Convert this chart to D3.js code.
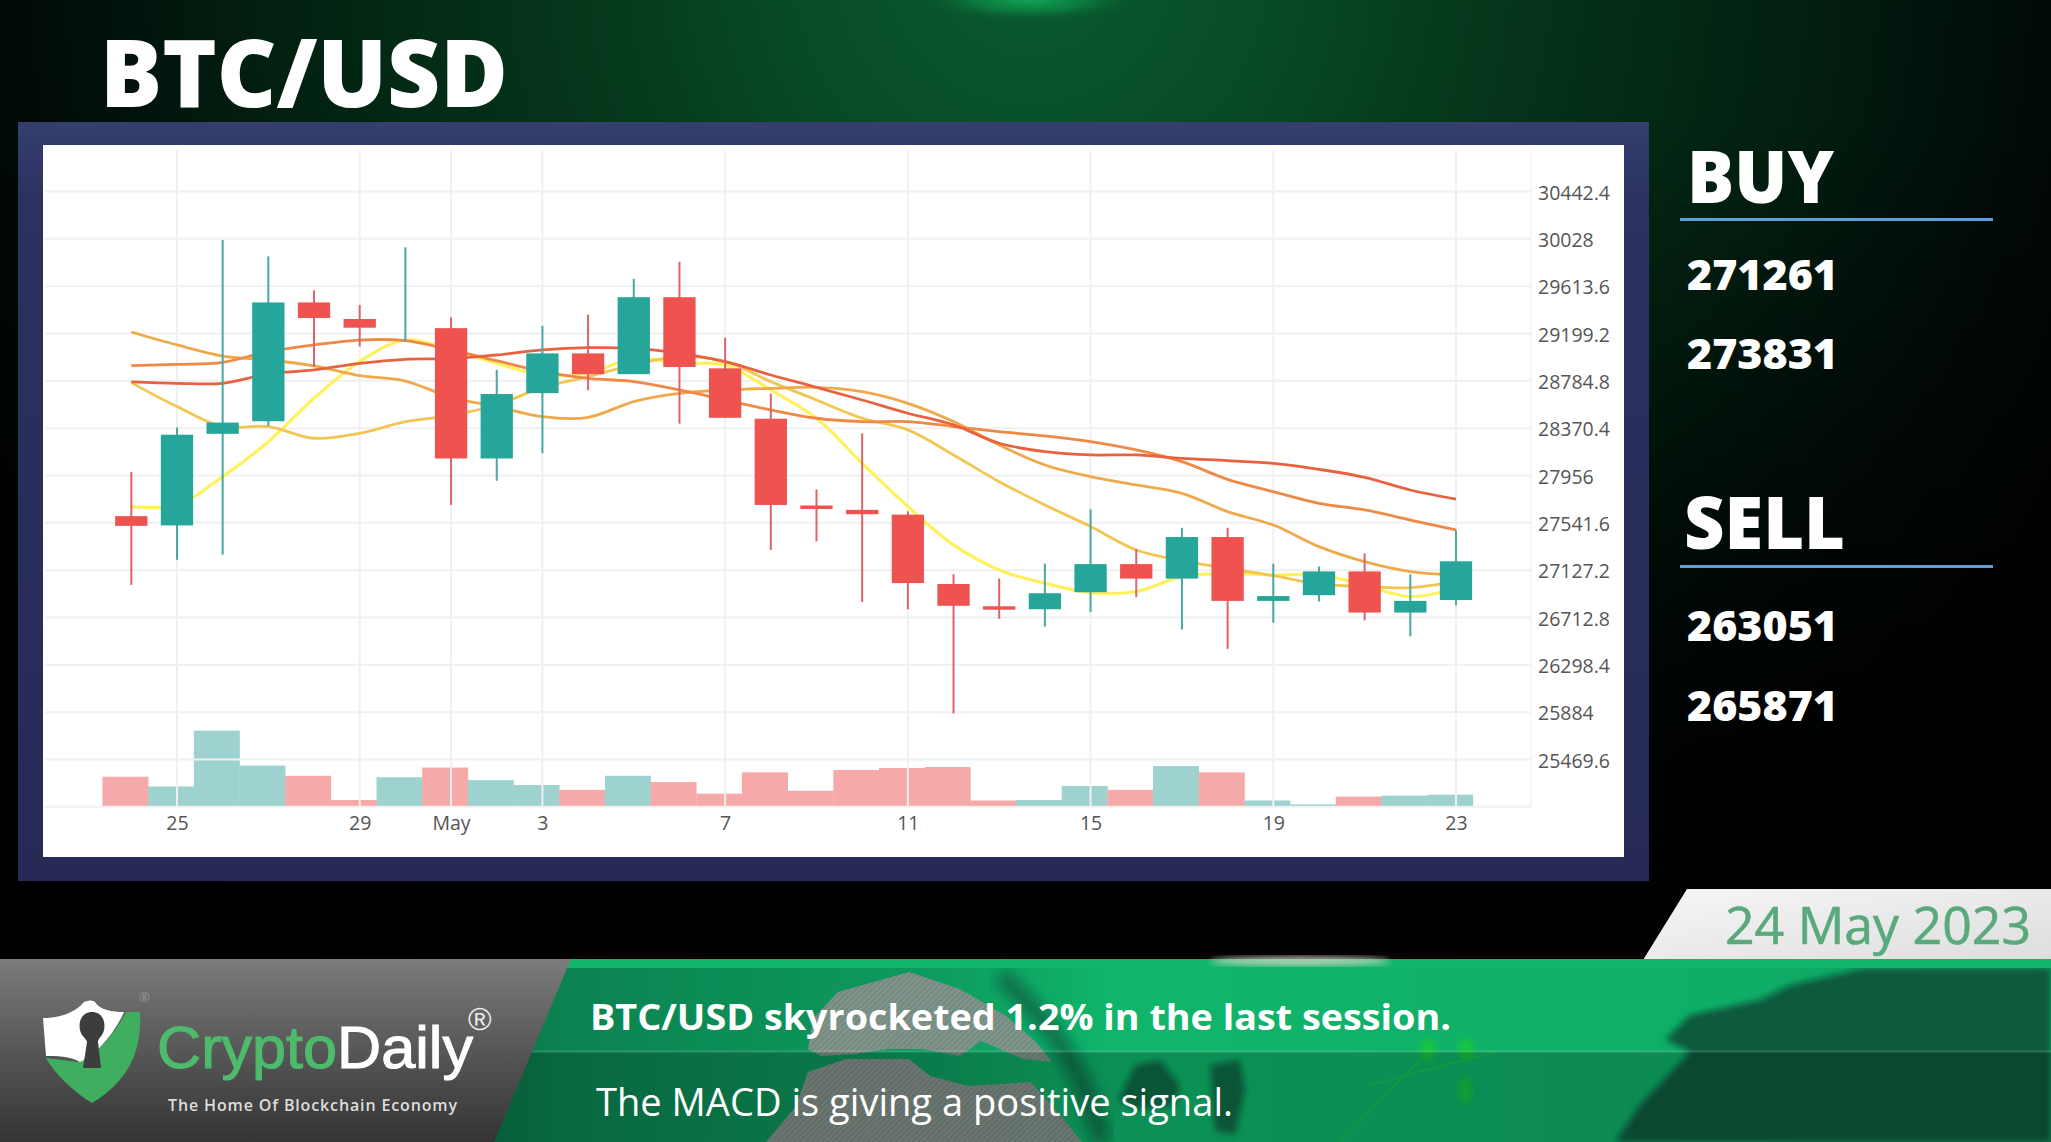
<!DOCTYPE html>
<html>
<head>
<meta charset="utf-8">
<script src="https://cdn.jsdelivr.net/npm/d3@7"></script>
<style>
html,body{margin:0;padding:0;background:#000;overflow:hidden}
svg{display:block}
text{font-family:"Open Sans",sans-serif}
</style>
</head>
<body>
<svg id="c" width="2051" height="1142" viewBox="0 0 2051 1142"></svg>
<script>
// ---- data ----
const dates = ["2023-04-24","2023-04-25","2023-04-26","2023-04-27","2023-04-28","2023-04-29","2023-04-30","2023-05-01","2023-05-02","2023-05-03","2023-05-04","2023-05-05","2023-05-06","2023-05-07","2023-05-08","2023-05-09","2023-05-10","2023-05-11","2023-05-12","2023-05-13","2023-05-14","2023-05-15","2023-05-16","2023-05-17","2023-05-18","2023-05-19","2023-05-20","2023-05-21","2023-05-22","2023-05-23"];
const opens  = [27600,27519,28321,28431,29471,29326,29127,29246,28105,28677,29025,28843,29517,28894,28453,27693,27655,27613,27006,26811,26785,26934,27180,27053,27417,26858,26908,27116,26756,26866];
const closes = [27515,28313,28419,29471,29335,29250,29127,28105,28669,29025,28843,29517,28906,28461,27698,27663,27617,27014,26815,26781,26925,27180,27053,27417,26858,26900,27116,26756,26858,27205];
const highs  = [27986,28376,30018,29874,29577,29449,29954,29339,28881,29267,29365,29678,29827,29161,28673,27833,28325,27642,27091,27053,27184,27659,27311,27498,27498,27184,27159,27273,27091,27477];
const lows   = [26998,27218,27261,28389,28906,29085,29127,27698,27910,28151,28703,28843,28410,28461,27303,27379,26849,26785,25873,26701,26633,26760,26891,26607,26438,26667,26853,26688,26548,26819];
const volumes = [62,42,157,85,64,14,61,81,55,45,35,64,51,27,71,33,76,80,82,13,14,43,35,84,71,13,5,21,23,25];
const ma5  = [27683,27698,27946,28252,28632,28953,29142,29055,28938,28836,28851,28982,28938,28924,28705,28457,28063,27684,27348,27129,27012,26931,26940,27070,27099,27085,27085,26997,26895,26968];
const ma10 = [28769,28559,28384,28384,28282,28325,28427,28483,28573,28728,28821,28924,28996,28953,28778,28617,28457,28355,28136,27902,27698,27509,27304,27210,27143,27079,27006,26983,26974,27026];
const ma15 = [29212,29099,29002,28967,28915,28830,28783,28640,28559,28471,28465,28603,28675,28705,28719,28728,28690,28588,28428,28223,28048,27946,27873,27800,27639,27522,27333,27201,27114,27085];
const ma20 = [28918,28929,28947,29040,29099,29142,29137,29055,28961,28865,28807,28778,28705,28617,28530,28457,28427,28428,28384,28340,28302,28253,28180,28077,27922,27814,27712,27654,27566,27479];
const ma30 = [28775,28763,28763,28845,28880,28938,28973,28979,29011,29055,29075,29069,29026,28953,28836,28728,28617,28501,28399,28238,28165,28136,28136,28106,28086,28062,28010,27940,27829,27750];
const priceTicks = [30442.4,30028,29613.6,29199.2,28784.8,28370.4,27956,27541.6,27127.2,26712.8,26298.4,25884,25469.6];
const dateTicks = ["2023-04-25","2023-04-29","2023-05-01","2023-05-03","2023-05-07","2023-05-11","2023-05-15","2023-05-19","2023-05-23"];
const dateLabels = ["25","29","May","3","7","11","15","19","23"];
const buyLevels = ["271261","273831"];
const sellLevels = ["263051","265871"];

// ---- scaffolding ----
const svg = d3.select("#c");
const defs = svg.append("defs");
function grad(id, kind, attrs, stops){
  const g = defs.append(kind).attr("id",id);
  Object.entries(attrs).forEach(([k,v])=>g.attr(k,v));
  stops.forEach(s=>g.append("stop").attr("offset",s[0]).attr("stop-color",s[1]).attr("stop-opacity",s[2]===undefined?1:s[2]));
}
grad("bg","radialGradient",{gradientUnits:"userSpaceOnUse",cx:1030,cy:-40,r:1250},[[0,"#0a5a30"],[.2,"#074a26"],[.38,"#05351a"],[.62,"#021f10"],[.81,"#010a08"],[1,"#000"]]);
grad("fade","linearGradient",{x1:0,y1:0,x2:0,y2:1},[[0,"#000",0],[.1,"#000",0],[.78,"#000",.9],[1,"#000",1]]);
grad("glow","radialGradient",{},[[0,"#12a555",1],[.5,"#0e8a46",.7],[1,"#0a5a30",0]]);
grad("frame","linearGradient",{x1:0,y1:0,x2:0,y2:1},[[0,"#343f6d"],[.1,"#2b3260"],[1,"#262a55"]]);
grad("grey","linearGradient",{x1:0,y1:0,x2:0,y2:1},[[0,"#7b7b7b"],[.5,"#575757"],[1,"#343434"]]);
grad("green","linearGradient",{x1:0,y1:0,x2:1,y2:0},[[0,"#0a6e45"],[.08,"#0b8350"],[.3,"#0d9a5e"],[.42,"#10b56b"],[.8,"#0fae68"],[1,"#0ea162"]]);
grad("tab","linearGradient",{x1:0,y1:0,x2:1,y2:1},[[0,"#f6f6f6"],[1,"#dcdedc"]]);
defs.append("filter").attr("id","b3").append("feGaussianBlur").attr("stdDeviation",3);
defs.append("filter").attr("id","b8").append("feGaussianBlur").attr("stdDeviation",7);
defs.append("filter").attr("id","b1").append("feGaussianBlur").attr("stdDeviation",.45);
const hatch = defs.append("pattern").attr("id","hatch").attr("width",4).attr("height",4).attr("patternUnits","userSpaceOnUse").attr("patternTransform","rotate(45)");
hatch.append("rect").attr("width",4).attr("height",4).attr("fill","#8d9490");
hatch.append("rect").attr("width",1.3).attr("height",4).attr("fill","#7a837e");

svg.append("rect").attr("width",2051).attr("height",1142).attr("fill","#000");
svg.append("rect").attr("width",2051).attr("height",1142).attr("fill","url(#bg)");
svg.append("rect").attr("width",2051).attr("height",1142).attr("fill","url(#fade)");
svg.append("ellipse").attr("cx",1030).attr("cy",0).attr("rx",110).attr("ry",22).attr("fill","url(#glow)");

// header
svg.append("text").attr("x",100).attr("y",107).attr("fill","#fff").attr("font-size",94).attr("font-weight",800).attr("textLength",408).attr("lengthAdjust","spacingAndGlyphs").text("BTC/USD");

// chart frame
svg.append("rect").attr("x",18).attr("y",122).attr("width",1631).attr("height",759).attr("fill","url(#frame)");
svg.append("rect").attr("x",43).attr("y",145).attr("width",1581).attr("height",712).attr("fill","#fff");

// ---- scales ----
const parse = d3.utcParse("%Y-%m-%d");
const dd = dates.map(parse);
const x = d3.scaleUtc().domain([dd[0],dd[dd.length-1]]).range([131.3,1456]);
const y = d3.scaleLinear().domain([25055.2,30442.4]).range([806.8,191.5]);
const v = d3.scaleLinear().domain([0,157]).range([806.8,730.7]);
const plotL = 45, plotR = 1531, plotT = 150;
const step = x(dd[1])-x(dd[0]);
const bodyW = 32.3, volShift = -6;
const UP = "#26a69a", DOWN = "#ef5350";
const isUp = i => closes[i] >= opens[i];

const chart = svg.append("g").attr("filter","url(#b1)");

// volume bars
chart.append("g").selectAll("rect").data(dates).join("rect")
  .attr("x",(d,i)=>x(dd[i])-step/2+volShift).attr("width",step+.3)
  .attr("y",(d,i)=>v(volumes[i])).attr("height",(d,i)=>v(0)-v(volumes[i]))
  .attr("fill",(d,i)=>isUp(i)?"#9dd2cf":"#f6a9a9");

// grid
const gridCol = "#f0f0f0";
chart.append("g").selectAll("line").data(priceTicks.concat([25055.2])).join("line")
  .attr("x1",plotL).attr("x2",plotR).attr("y1",d=>y(d)).attr("y2",d=>y(d))
  .attr("stroke",gridCol).attr("stroke-width",2);
chart.append("g").selectAll("line").data(dateTicks).join("line")
  .attr("x1",d=>x(parse(d))).attr("x2",d=>x(parse(d))).attr("y1",plotT).attr("y2",y(25055.2))
  .attr("stroke",gridCol).attr("stroke-width",2);
chart.append("line").attr("x1",plotR).attr("x2",plotR).attr("y1",plotT).attr("y2",y(25055.2)).attr("stroke","#f5f5f5").attr("stroke-width",1.5);

// axes
const yAxis = d3.axisRight(y).tickValues(priceTicks).tickSize(0).tickPadding(7).tickFormat(d=>String(d));
const yG = svg.append("g").attr("transform",`translate(${plotR},1.5)`).call(yAxis);
yG.select(".domain").remove();
yG.selectAll("text").attr("fill","#555").attr("font-size",19.5).attr("font-family","'Open Sans',sans-serif");
const xAxis = d3.axisBottom(x).tickValues(dateTicks.map(parse)).tickSize(0).tickPadding(8).tickFormat((d,i)=>dateLabels[i]);
const xG = svg.append("g").attr("transform",`translate(0,${y(25055.2)+1})`).call(xAxis);
xG.select(".domain").remove();
xG.selectAll("text").attr("fill","#555").attr("font-size",19.5).attr("font-family","'Open Sans',sans-serif");

// moving averages
const line = d3.line().x((d,i)=>x(dd[i])).y(d=>y(d)).curve(d3.curveCatmullRom.alpha(.5));
[[ma5,"#fff15c",3.2],[ma10,"#f3c552",2.8],[ma15,"#efa94c",2.8],[ma20,"#ee8a45",2.8],[ma30,"#e8623f",2.8]].forEach(([s,c,w])=>{
  chart.append("path").attr("d",line(s)).attr("fill","none").attr("stroke",c).attr("stroke-width",w);
});

// candles
chart.append("g").selectAll("line").data(dates).join("line")
  .attr("x1",(d,i)=>x(dd[i])).attr("x2",(d,i)=>x(dd[i]))
  .attr("y1",(d,i)=>y(highs[i])).attr("y2",(d,i)=>y(lows[i]))
  .attr("stroke",(d,i)=>isUp(i)?"#47a99f":"#dc636b").attr("stroke-width",2);
chart.append("g").selectAll("rect").data(dates).join("rect")
  .attr("x",(d,i)=>x(dd[i])-bodyW/2).attr("width",bodyW)
  .attr("y",(d,i)=>y(Math.max(opens[i],closes[i])))
  .attr("height",(d,i)=>Math.abs(y(opens[i])-y(closes[i])))
  .attr("fill",(d,i)=>isUp(i)?UP:DOWN);

// buy / sell panel
function label(t,xx,yy,size,w){
  return svg.append("text").attr("x",xx).attr("y",yy).attr("fill","#fff").attr("font-size",size).attr("font-weight",800).attr("textLength",w).attr("lengthAdjust","spacingAndGlyphs").text(t);
}
label("BUY",1687,203,72,147);
svg.append("rect").attr("x",1680).attr("y",218).attr("width",313).attr("height",3).attr("fill","#5f9fd8");
buyLevels.forEach((t,i)=>label(t,1687,[290,369][i],43,151));
label("SELL",1684,549,72,161);
svg.append("rect").attr("x",1680).attr("y",565).attr("width",313).attr("height",3).attr("fill","#5f9fd8");
sellLevels.forEach((t,i)=>label(t,1687,[641,721][i],43,151));

// date tab
svg.append("path").attr("d","M1687 889L2051 889L2051 960L1643 960Z").attr("fill","url(#tab)");
svg.append("text").attr("x",1725).attr("y",944).attr("fill","#5aa97c").attr("stroke","#5aa97c").attr("stroke-width",.6).attr("font-size",50.5).attr("textLength",306).attr("lengthAdjust","spacingAndGlyphs").text("24 May 2023");

// bottom banner
svg.append("rect").attr("x",440).attr("y",959).attr("width",1611).attr("height",183).attr("fill","url(#green)");
svg.append("path").attr("d","M1865 968L1790 985L1760 1000L1690 1015L1665 1040L1690 1052L1640 1105L1615 1142L2051 1142L2051 968Z").attr("fill","#0d5a3e").attr("filter","url(#b3)");
// globe: shaded limb and hatched land
svg.append("path").attr("d","M1000 975Q1060 1030 1086 1092L1103 1142").attr("stroke","#0a7049").attr("stroke-width",18).attr("fill","none").attr("filter","url(#b8)");
svg.append("path").attr("d","M808 1049L813 1019L838 992L909 972L960 989L1006 1016L1036 1042L1052 1062L1023 1059L981 1041L960 1056L922 1049L888 1049L855 1054L821 1056Z").attr("fill","url(#hatch)").attr("opacity",.9).attr("filter","url(#b1)");
svg.append("path").attr("d","M808 1072L846 1059L909 1059L930 1076L968 1086L1031 1082L1061 1116L1082 1142L766 1142L796 1106Z").attr("fill","url(#hatch)").attr("opacity",.95).attr("filter","url(#b1)");
svg.append("path").attr("d","M1118 1100L1135 1065L1160 1060L1180 1085L1175 1105L1140 1110Z").attr("fill","#0b6a46").attr("filter","url(#b3)");
svg.append("path").attr("d","M1210 1065L1240 1060L1245 1090L1235 1135L1215 1130Z").attr("fill","#0b6a46").attr("filter","url(#b3)");
svg.append("path").attr("d","M1340 1142L1425 1055M1370 1085L1495 1052").attr("stroke","#1cc24b").attr("stroke-width",1.5).attr("fill","none");
svg.append("ellipse").attr("cx",1428).attr("cy",1050).attr("rx",8).attr("ry",12).attr("fill","#18c43f").attr("filter","url(#b3)");
svg.append("ellipse").attr("cx",1466).attr("cy",1050).attr("rx",8).attr("ry",12).attr("fill","#18c43f").attr("filter","url(#b3)");
svg.append("ellipse").attr("cx",1465).attr("cy",1090).attr("rx",7).attr("ry",14).attr("fill","#18c43f").attr("filter","url(#b3)");
svg.append("rect").attr("x",440).attr("y",1052).attr("width",1611).attr("height",90).attr("fill","#000").attr("opacity",.2);
svg.append("rect").attr("x",440).attr("y",1050).attr("width",1611).attr("height",3).attr("fill","#fff").attr("opacity",.1);
svg.append("rect").attr("x",440).attr("y",959).attr("width",1611).attr("height",9).attr("fill","#12b56c");
svg.append("ellipse").attr("cx",1300).attr("cy",961).attr("rx",90).attr("ry",5).attr("fill","#d8d8c8").attr("opacity",.8).attr("filter","url(#b3)");

svg.append("path").attr("d","M0 959L571 959L494 1142L0 1142Z").attr("fill","url(#grey)");

// logo
svg.append("path").attr("d","M140 1012C142 1050 130 1080 92 1103C60 1083 47 1060 46 1058L78 1062C95 1055 115 1035 126 1012Z").attr("fill","#3fae5f");
svg.append("path").attr("d","M43 1018C58 1018 74 1014 84 1002C88 1000 92 1000 95 1002C100 1010 112 1012 124 1012C116 1030 100 1052 80 1062C70 1056 56 1056 46 1056Z").attr("fill","#fff");
svg.append("path").attr("d","M92 1012C101 1012 106 1020 104 1030C103 1036 98 1038 98 1042L101 1068L83 1068L87 1042C86 1038 81 1036 80 1030C78 1020 83 1012 92 1012Z").attr("fill","#3d3d3d");
svg.append("text").attr("x",139).attr("y",1002).attr("fill","#999").attr("font-size",13).text("®");
const logo = svg.append("text").attr("x",157).attr("y",1068).attr("font-size",60).style("font-family","'Liberation Sans',Arial,sans-serif").attr("textLength",316).attr("lengthAdjust","spacingAndGlyphs").attr("stroke-width",1.1);
logo.append("tspan").attr("fill","#4dbb6b").attr("stroke","#4dbb6b").text("Crypto");
logo.append("tspan").attr("fill","#fff").attr("stroke","#fff").text("Daily");
svg.append("text").attr("x",468).attr("y",1030).attr("fill","#eee").attr("font-size",32).style("font-family","'Liberation Sans',Arial,sans-serif").text("®");
svg.append("text").attr("x",168).attr("y",1111).attr("fill","#ddd").attr("font-size",16).attr("font-weight",600).attr("textLength",289).text("The Home Of Blockchain Economy");

// ticker
svg.append("text").attr("x",590).attr("y",1030).attr("fill","#fff").attr("font-size",36).attr("font-weight",700).attr("textLength",861).attr("lengthAdjust","spacingAndGlyphs").text("BTC/USD skyrocketed 1.2% in the last session.");
svg.append("text").attr("x",596).attr("y",1116).attr("fill","#fff").attr("font-size",38).attr("textLength",637).attr("lengthAdjust","spacingAndGlyphs").text("The MACD is giving a positive signal.");
</script>
</body>
</html>
